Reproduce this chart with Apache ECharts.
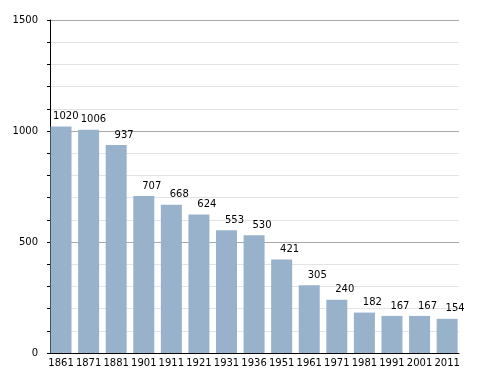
<!DOCTYPE html>
<html>
<head>
<meta charset="utf-8">
<script src="https://cdn.jsdelivr.net/npm/echarts@6/dist/echarts.min.js"></script>
<style>html,body{margin:0;padding:0;background:#fff}#c{width:488px;height:373px}</style>
</head>
<body>
<div id="c"></div>
<script>
const years = ['1861','1871','1881','1901','1911','1921','1931','1936','1951','1961','1971','1981','1991','2001','2011'];
const population = [1020,1006,937,707,668,624,553,530,421,305,240,182,167,167,154];
const yTicks = [0,500,1000,1500];

const chart = echarts.init(document.getElementById('c'), null, {renderer:'canvas'});
const font = 'DejaVu Sans';
chart.setOption({
  animation:false,
  grid:{left:50, right:29, top:20, bottom:20},
  xAxis:{
    type:'value', min:-0.4, max:14.43,
    axisLine:{show:true, onZero:false, lineStyle:{color:'#000', width:1}},
    axisTick:{show:false},
    splitLine:{show:false},
    axisLabel:{
      customValues: years.map((y,i)=>i),
      formatter:(v)=>years[Math.round(v)],
      fontFamily:font, fontSize:10, color:'#000', margin:5, hideOverlap:false
    }
  },
  yAxis:{
    type:'value', min:yTicks[0], max:yTicks[yTicks.length-1], interval:500,
    axisLine:{show:true, onZero:false, lineStyle:{color:'#000', width:1}},
    axisTick:{show:true, length:3, lineStyle:{color:'#000'}},
    minorTick:{show:true, splitNumber:5, length:3, lineStyle:{color:'#000'}},
    splitLine:{show:true, lineStyle:{color:'#a9a9a9', width:1}},
    minorSplitLine:{show:true, lineStyle:{color:'#e3e3e3', width:1}},
    axisLabel:{fontFamily:font, fontSize:10, color:'#000', margin:12, formatter:(v)=>String(v)}
  },
  series:[{
    type:'bar',
    data: population.map((v,i)=>[i,v]),
    barWidth:21,
    itemStyle:{color:'#99b2cc'},
    label:{show:true, position:'top', align:'right', offset:[17.5,0], distance:5,
      fontFamily:font, fontSize:10, color:'#000'}
  }]
});
</script>
</body>
</html>
